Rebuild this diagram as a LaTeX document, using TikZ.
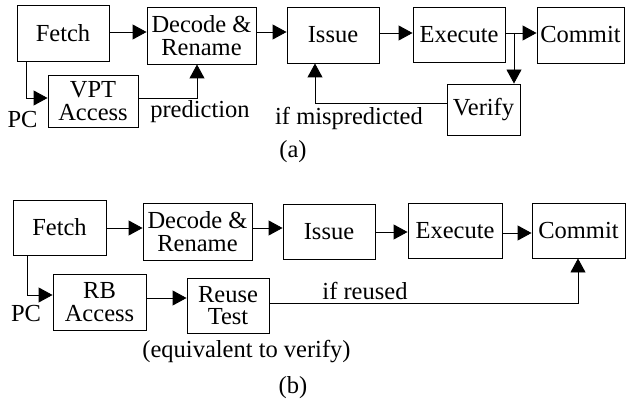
\documentclass[tikz,border=0pt]{standalone}
\usepackage{fontspec}
\setmainfont{Liberation Serif}
\usetikzlibrary{arrows.meta}
\tikzset{
  stage/.style={draw, line width=0.9pt, inner sep=0pt, align=center,
    font=\fontsize{24.5}{22.5}\selectfont},
  lbl/.style={inner sep=0pt, font=\fontsize{24.5}{22.5}\selectfont},
  arr/.style={line width=0.9pt, -{Triangle[length=14pt,width=15pt]}},
  ln/.style={line width=0.9pt}
}
\begin{document}
\begin{tikzpicture}[x=1pt,y=-1pt]
\useasboundingbox (0,0) rectangle (627,404);

% ---------- (a) value prediction pipeline ----------
\node[stage, minimum width=92pt, minimum height=56pt] (fetchA) at (63,33) {Fetch};
\node[stage, minimum width=109pt, minimum height=57pt] (decA) at (201.5,35.5) {Decode \&\\Rename};
\node[stage, minimum width=92pt, minimum height=56pt] (issueA) at (333,35) {Issue};
\node[stage, minimum width=92pt, minimum height=55pt] (execA) at (459,34.5) {Execute};
\node[stage, minimum width=87pt, minimum height=56pt] (commitA) at (580.5,35) {Commit};
\node[stage, minimum width=73pt, minimum height=51pt] (verifyA) at (483.5,109.5) {Verify};
\node[stage, minimum width=90pt, minimum height=52pt] (vptA) at (93,101) {VPT\\Access};

\node[lbl] (pcA) at (22.5,120) {PC};
\node[lbl] (predA) at (200,112) {prediction};
\node[lbl] (mispA) at (349,118) {if mispredicted};
\node[lbl] (capA) at (293,152) {(a)};

\coordinate (pcbendA) at (26,98);
\coordinate (predbendA) at (197,98);
\coordinate (splitA) at (514,33);
\coordinate (backA) at (315,103);

\draw[arr] (fetchA.east |- 0,32) -- (decA.west |- 0,32);
\draw[arr] (decA.east |- 0,32) -- (issueA.west |- 0,32);
\draw[arr] (issueA.east |- splitA) -- (execA.west |- splitA);
\draw[arr] (execA.east |- splitA) -- (commitA.west |- splitA);
\draw[arr] (splitA) -- (verifyA.north -| splitA);
\draw[arr] (fetchA.south -| pcbendA) |- (vptA.west |- pcbendA);
\draw[arr] (vptA.east |- predbendA) -| (decA.south -| predbendA);
\draw[arr] (verifyA.west |- backA) -| (issueA.south -| backA);

% ---------- (b) instruction reuse pipeline ----------
\node[stage, minimum width=93pt, minimum height=55pt] (fetchB) at (59.5,227.5) {Fetch};
\node[stage, minimum width=109pt, minimum height=57pt] (decB) at (197.5,231.5) {Decode \&\\Rename};
\node[stage, minimum width=92pt, minimum height=55pt] (issueB) at (329,231.5) {Issue};
\node[stage, minimum width=94pt, minimum height=55pt] (execB) at (455,230.5) {Execute};
\node[stage, minimum width=93pt, minimum height=55pt] (commitB) at (578.5,230.5) {Commit};
\node[stage, minimum width=93pt, minimum height=56pt] (rbB) at (99.5,302) {RB\\Access};
\node[stage, minimum width=82pt, minimum height=55pt] (reuseB) at (228,305.5) {Reuse\\Test};

\node[lbl] (pcB) at (26,314) {PC};
\node[lbl] (reusedB) at (365,291) {if reused};
\node[lbl] (equivB) at (246.5,352) {(equivalent to verify)};
\node[lbl] (capB) at (293,388) {(b)};

\coordinate (pcbendB) at (27,295);
\coordinate (commitbendB) at (578,303);

\draw[arr] (fetchB.east |- 0,228) -- (decB.west |- 0,228);
\draw[arr] (decB.east |- 0,228) -- (issueB.west |- 0,228);
\draw[arr] (issueB.east |- 0,232) -- (execB.west |- 0,232);
\draw[arr] (execB.east |- 0,233) -- (commitB.west |- 0,233);
\draw[arr] (fetchB.south -| pcbendB) |- (rbB.west |- pcbendB);
\draw[arr] (rbB.east |- 0,298) -- (reuseB.west |- 0,298);
\draw[arr] (reuseB.east |- commitbendB) -| (commitB.south -| commitbendB);
\end{tikzpicture}
\end{document}
